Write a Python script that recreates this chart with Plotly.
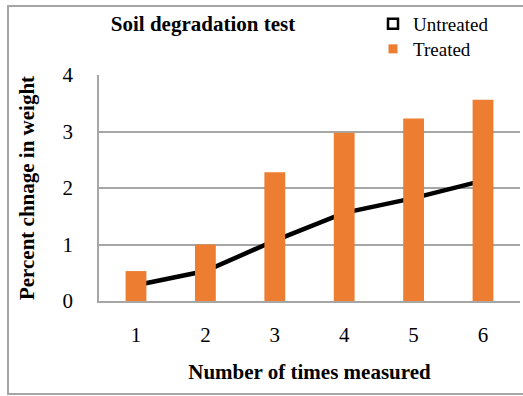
import plotly.graph_objects as go

measurements = [1, 2, 3, 4, 5, 6]
untreated = [0.28, 0.53, 1.07, 1.56, 1.82, 2.13]
treated = [0.53, 1.00, 2.28, 2.98, 3.23, 3.56]
y_ticks = [0, 1, 2, 3, 4]

SERIF = "Liberation Serif"
ORANGE = "#ED7D31"
GRID = "#A6A6A6"

W, H = 523, 396
ML, MR, MT, MB = 99, 3, 75, 95
PW, PH = W - ML - MR, H - MT - MB

def px_x(p):
    return (p - ML) / PW

def px_y(p):
    return (H - MB - p) / PH

fig = go.Figure()

# line (main axes, drawn below the bars)
fig.add_trace(go.Scatter(
    x=measurements, y=untreated, mode="lines",
    line=dict(color="black", width=4.5),
    showlegend=False, xaxis="x", yaxis="y",
))
# bars on overlaid axes so they sit above the line
fig.add_trace(go.Bar(
    x=measurements, y=treated, width=0.30,
    marker=dict(color=ORANGE, line=dict(width=0)),
    showlegend=False, xaxis="x2", yaxis="y2",
))
# legend entries
fig.add_trace(go.Scatter(
    x=[None], y=[None], mode="markers", name="Untreated",
    marker=dict(symbol="square-open", size=10, color="black", line=dict(width=2.5, color="black")),
    legend="legend",
))
fig.add_trace(go.Scatter(
    x=[None], y=[None], mode="markers", name="Treated",
    marker=dict(symbol="square", size=9, color=ORANGE),
    legend="legend2",
))

xr = [0.467, 6.533]
yr = [0, 4]

fig.update_layout(
    width=W, height=H,
    margin=dict(l=ML, r=MR, t=MT, b=MB, autoexpand=False),
    paper_bgcolor="white", plot_bgcolor="white",
    font=dict(family=SERIF, size=21, color="black"),
    title=dict(
        text="Soil degradation test",
        font=dict(family=SERIF, size=21, weight="bold", color="black"),
        xref="container", x=203 / W, xanchor="center",
        yref="container", y=1 - 24 / H, yanchor="middle",
    ),
    xaxis=dict(
        range=xr, tickvals=measurements, ticktext=[str(m) for m in measurements],
        showgrid=False, showline=True, linecolor=GRID, linewidth=1.5,
        ticks="", ticklabelstandoff=14, zeroline=False,
        tickfont=dict(family=SERIF, size=21, color="black"),
        title=dict(text="Number of times measured", standoff=18,
                   font=dict(family=SERIF, size=21, weight="bold", color="black")),
    ),
    yaxis=dict(
        range=yr, tickvals=y_ticks, showgrid=True, gridcolor=GRID, gridwidth=1.5,
        showline=True, linecolor=GRID, linewidth=1.5, zeroline=False,
        ticks="", ticklabelstandoff=20,
        tickfont=dict(family=SERIF, size=21, color="black"),
        title=dict(text="Percent chnage in weight", standoff=22,
                   font=dict(family=SERIF, size=21, weight="bold", color="black")),
    ),
    xaxis2=dict(range=xr, overlaying="x", visible=False, showgrid=False, zeroline=False),
    yaxis2=dict(range=yr, overlaying="y", visible=False, showgrid=False, zeroline=False),
    legend=dict(
        xref="container", yref="container", x=373 / W, y=1 - 5 / H,
        xanchor="left", yanchor="top", bgcolor="rgba(0,0,0,0)",
        font=dict(family=SERIF, size=19, color="black"), itemwidth=30,
    ),
    legend2=dict(
        xref="container", yref="container", x=373 / W, y=1 - 30 / H,
        xanchor="left", yanchor="top", bgcolor="rgba(0,0,0,0)",
        font=dict(family=SERIF, size=19, color="black"), itemwidth=30,
    ),
    shapes=[dict(
        type="rect", xref="paper", yref="paper",
        x0=px_x(8), x1=px_x(540), y0=px_y(394), y1=px_y(6),
        line=dict(color=GRID, width=2), fillcolor="rgba(0,0,0,0)", layer="below",
    )],
)

fig.write_html("out.html")
